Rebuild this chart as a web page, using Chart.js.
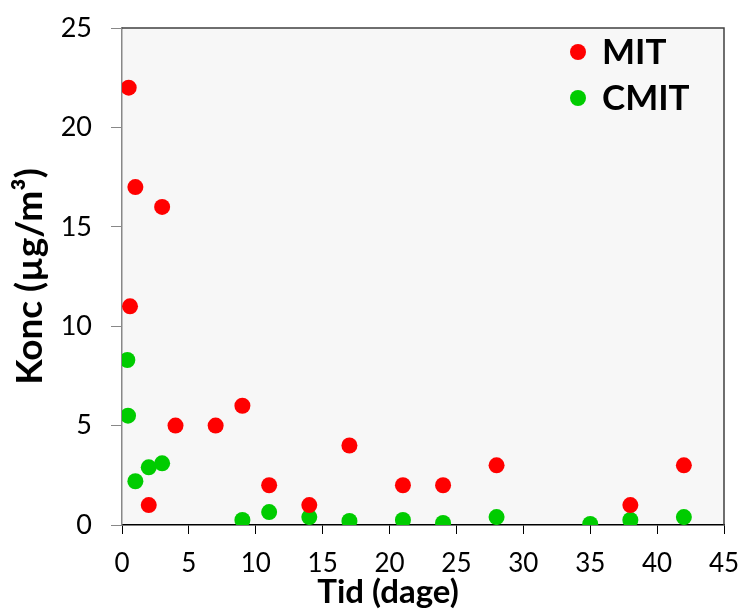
<!DOCTYPE html>
<html>
<head>
<meta charset="utf-8">
<script src="https://cdn.jsdelivr.net/npm/chart.js@4.4.1/dist/chart.umd.min.js"></script>
<style>
  html, body { margin: 0; padding: 0; background: #fff; }
  #wrap { width: 741px; height: 609px; }
</style>
</head>
<body>
<div id="wrap"><canvas id="konc"></canvas></div>
<script>
// data: days vs concentration (ug/m3)
mitDays = [0.5, 0.6, 1, 2, 3, 4, 7, 9, 11, 14, 17, 21, 24, 28, 38, 42]
mitKonc = [22, 11, 17, 1, 16, 5, 5, 6, 2, 1, 4, 2, 2, 3, 1, 3]

cmitDays = [0.4, 0.45, 1, 2, 3, 9, 11, 14, 17, 21, 24, 28, 35, 38, 42]
cmitKonc = [8.3, 5.5, 2.2, 2.9, 3.1, 0.25, 0.65, 0.4, 0.2, 0.25, 0.1, 0.4, 0.05, 0.25, 0.4]

seriesNames = ['MIT', 'CMIT']
seriesColors = ['#ff0000', '#00cc00']

xTitle = 'Tid (dage)'
yTitle = 'Konc (µg/m³)'

FONT = 'Lato, "Liberation Sans", sans-serif'

function toPoints(xs, ys) {
  return xs.map((x, i) => ({x: x, y: ys[i]}))
}

// plot area fill + top/right frame
areaPlugin = {
  id: 'area',
  beforeDraw(chart) {
    const a = chart.chartArea, ctx = chart.ctx
    ctx.save()
    ctx.fillStyle = '#f7f7f7'
    ctx.fillRect(a.left, a.top, a.right - a.left, a.bottom - a.top)
    ctx.restore()
  },
  afterDatasetsDraw(chart) {
    const a = chart.chartArea, ctx = chart.ctx
    ctx.save()
    ctx.strokeStyle = '#404040'
    ctx.lineWidth = 1.5
    ctx.beginPath()
    ctx.moveTo(a.left, a.top)
    ctx.lineTo(a.right, a.top)
    ctx.lineTo(a.right, a.bottom)
    ctx.stroke()
    ctx.restore()
  }
}

// legend inside plot area (top right) and the x title, which sits left of centre
legendPlugin = {
  id: 'innerLegend',
  afterDraw(chart) {
    const a = chart.chartArea, ctx = chart.ctx
    ctx.save()
    chart.data.datasets.forEach((ds, i) => {
      const cx = a.right - 146, cy = a.top + 24 + i * 46
      ctx.fillStyle = ds.backgroundColor
      ctx.beginPath()
      ctx.arc(cx, cy, 8, 0, Math.PI * 2)
      ctx.fill()
      ctx.fillStyle = '#000'
      ctx.font = 'bold 35px ' + FONT
      ctx.textBaseline = 'middle'
      ctx.fillText(ds.label, cx + 24, cy + 1)
    })
    ctx.font = 'bold 33px ' + FONT
    ctx.textAlign = 'center'
    ctx.textBaseline = 'alphabetic'
    ctx.fillText(xTitle, a.left + 266, a.bottom + 78)
    ctx.restore()
  }
}

chartdata = {
  datasets: [
    {
      label: seriesNames[0],
      data: toPoints(mitDays, mitKonc),
      backgroundColor: seriesColors[0],
      borderColor: seriesColors[0],
      pointRadius: 8,
      pointBorderWidth: 0
    },
    {
      label: seriesNames[1],
      data: toPoints(cmitDays, cmitKonc),
      backgroundColor: seriesColors[1],
      borderColor: seriesColors[1],
      pointRadius: 8,
      pointBorderWidth: 0
    }
  ]
}

config = {
  type: 'scatter',
  data: chartdata,
  options: {
    responsive: true,
    maintainAspectRatio: false,
    animation: false,
    layout: { padding: { top: 28, right: 17, left: 0, bottom: 0 } },
    plugins: { legend: { display: false }, tooltip: { enabled: false } },
    scales: {
      x: {
        type: 'linear', min: 0, max: 45,
        ticks: { stepSize: 5, color: '#000', font: { family: FONT, size: 26 }, padding: 14 },
        grid: { display: true, drawOnChartArea: false, drawTicks: true, tickLength: 9, color: '#000' },
        border: { display: true, color: '#000', width: 1.5 },
        title: { display: false },
        afterFit(s) { s.height = 84; s.paddingLeft = 0; s.paddingRight = 0 }
      },
      y: {
        type: 'linear', min: 0, max: 25,
        ticks: { stepSize: 5, color: '#000', font: { family: FONT, size: 27 }, padding: 19 },
        grid: { display: true, drawOnChartArea: false, drawTicks: true, tickLength: 11, color: '#888' },
        border: { display: true, color: '#888', width: 1.5 },
        title: { display: true, text: yTitle, color: '#000', font: { family: FONT, size: 37, weight: 'bold' }, padding: { top: 8, bottom: 0 } },
        afterFit(s) { s.width = 122; s.paddingTop = 0; s.paddingBottom = 0 }
      }
    }
  },
  plugins: [areaPlugin, legendPlugin]
}

var myChart = new Chart(document.getElementById('konc'), config)
</script>
</body>
</html>
